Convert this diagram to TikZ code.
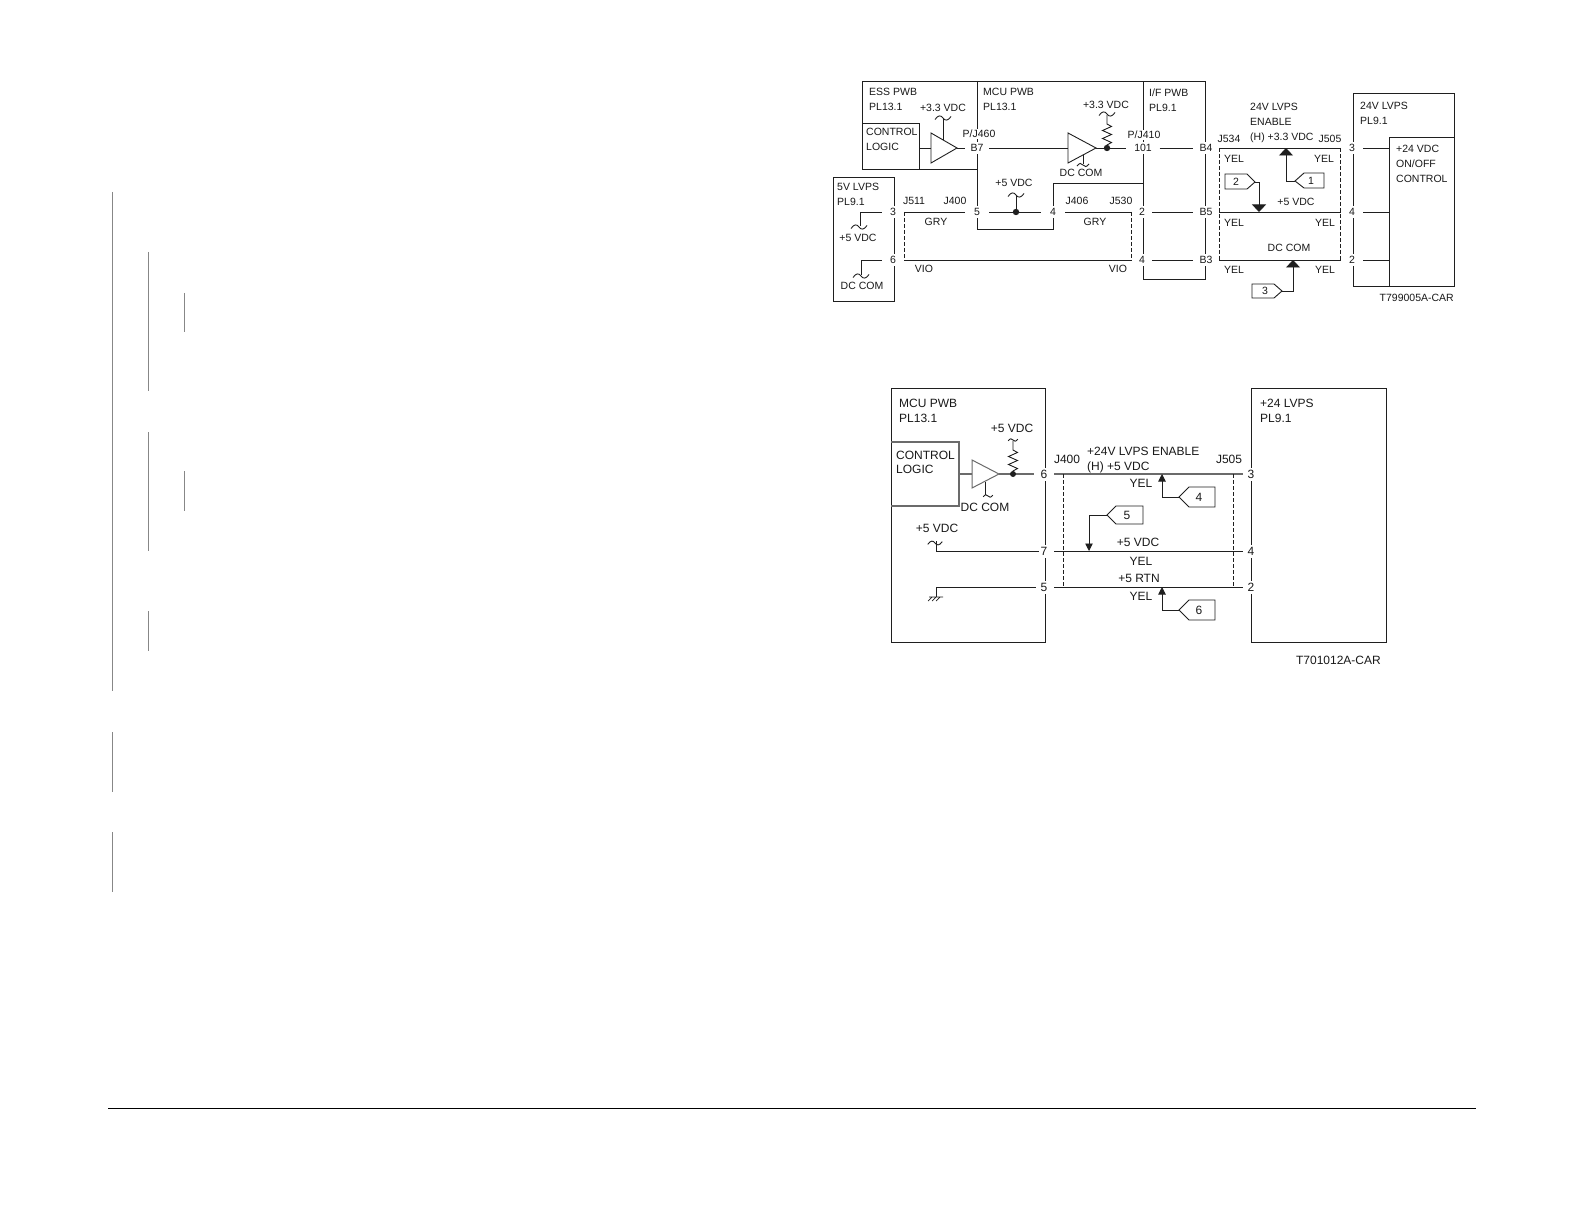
\documentclass[tikz,border=0pt]{standalone}
\usepackage{fontspec}
\setmainfont{Liberation Sans}
\usetikzlibrary{arrows.meta,calc}
\definecolor{ink}{gray}{0.12}
\definecolor{txt}{gray}{0.1}
\definecolor{barc}{gray}{0.53}
\tikzset{
  wire/.style={draw=ink,line width=.9pt},
  gwire/.style={draw=black!58,line width=1.4pt},
  dash box/.style={draw=ink,line width=.8pt,dash pattern=on 3.6pt off 2.4pt},
  bar/.style={draw=barc,line width=1pt},
  box/.style={draw=ink,line width=.9pt,rectangle,inner sep=0pt,outer sep=0pt,anchor=north west},
  ctr/.style={text=txt,inner sep=0pt,font=\fontsize{10.5}{12}\selectfont,text height=7.6pt,text depth=0pt},
  lft/.style={ctr,anchor=west},
  rgt/.style={ctr,anchor=east},
  bctr/.style={text=txt,inner sep=0pt,font=\fontsize{12}{13}\selectfont,text height=8.6pt,text depth=0pt},
  blft/.style={bctr,anchor=west},
  brgt/.style={bctr,anchor=east},
  pinn/.style={ctr,fill=white,minimum width=#1,minimum height=12pt},
  pinn/.default=22pt,
  bpin/.style={bctr,fill=white,minimum width=#1,minimum height=13pt},
  bpin/.default=20pt,
  bigarrow/.style={wire,-{Triangle[width=14pt,length=7.5pt]}},
  smallarrow/.style={draw=ink,line width=.9pt,-{Triangle[width=7.5pt,length=7.5pt]}},
  tag/.style={draw=ink,line width=.9pt,line join=miter},
  tilde/.pic={\draw[draw=ink,line width=.9pt] (-8,1.5) .. controls (-5,-3) and (-2,-3) .. (0,0) .. controls (2,3) and (5,3) .. (8,-1.5);},
  zigzag up/.pic={\draw[draw=ink,line width=.9pt] (0,0) -- (0,-3) -- (4.5,-5.5) -- (-4.5,-9.5) -- (4.5,-13.5) -- (-4.5,-17.5) -- (4.5,-21.5) -- (0,-24) -- (0,-#1);},
}
\begin{document}
\begin{tikzpicture}[x=1pt,y=-1pt]
\useasboundingbox (0,0) rectangle (1582,1222);
\fill[white] (0,0) rectangle (1582,1222);

% page bars
\draw[bar] (112.5,192) -- (112.5,691);
\draw[bar] (148,252) -- (148,391.5);
\draw[bar] (184,293) -- (184,332);
\draw[bar] (148,432) -- (148,551);
\draw[bar] (184,471) -- (184,511);
\draw[bar] (148,611) -- (148,651);
\draw[bar] (112.5,732) -- (112.5,792);
\draw[bar] (112.5,832) -- (112.5,892);
\draw[draw=black,line width=1pt] (108,1108.5) -- (1476,1108.5);

%%%%%%%%%% TOP DIAGRAM
% boxes and walls
\node[box,minimum width=61pt,minimum height=124pt] (lvpsfive) at (833,177) {};
\node[box,minimum width=101pt,minimum height=193pt] (lvpstf) at (1353,93) {};
\node[box,minimum width=65pt,minimum height=149pt] (onoff) at (1389,137) {};
\node[box,minimum width=57pt,minimum height=46pt] (ctla) at (862,123) {};
\draw[wire] (862,123) -- (862,81) -- (1205,81) -- (1205,279) -- (1143,279) -- (1143,81);
\draw[wire] (862,169) -- (977,169);
\draw[wire] (977,81) -- (977,229) -- (1053,229) -- (1053,183) -- (1143,183);

% pins (white ground opens the walls)
\node[pinn] (p3a) at (893,212) {3};
\node[pinn] (p6a) at (893,260) {6};
\node[pinn=24pt] (pB7) at (977,148) {B7};
\node[pinn=24pt] (p5a) at (977,212) {5};
\node[pinn=24pt] (p4a) at (1053,212) {4};
\node[pinn=33pt] (p101) at (1143,148) {101};
\node[pinn=20pt] (p2a) at (1142,212) {2};
\node[pinn=20pt] (p4b) at (1142,260) {4};
\node[pinn=26pt] (pB4) at (1206,148) {B4};
\node[pinn=26pt] (pB5) at (1206,212) {B5};
\node[pinn=26pt] (pB3) at (1206,260) {B3};
\node[pinn] (p3b) at (1352,148) {3};
\node[pinn] (p4c) at (1352,212) {4};
\node[pinn] (p2b) at (1352,260) {2};

% buffers
\coordinate (ain) at (931,148);
\coordinate (aout) at (957,148);
\coordinate (bin) at (1068,148);
\coordinate (bout) at (1096,148);
\coordinate (jres) at (1107,148);
\coordinate (jfive) at (1016,212);
\draw[wire,line join=miter] (931,133) -- (931,163) -- (aout) -- cycle;
\draw[wire,line join=miter] (1068,133) -- (1068,163) -- (bout) -- cycle;
\draw[wire] (919,148) -- (ain);
\draw[wire] (aout) -- (pB7.west);
\draw[wire] (pB7.east) -- (bin);
\draw[wire] (bout) -- (p101.west);
\draw[wire] (p101.east) -- (pB4.west);
\fill[ink] (jres) circle (3.2pt);
\fill[ink] (jfive) circle (3.2pt);
\pic at (jres) {zigzag up=33};
\pic at (1107,114) {tilde};
\draw[wire] (943,140.5) -- (943,118);
\pic at (943,118) {tilde};
\draw[wire] (1083,155) -- (1083,164);
\pic[scale=.75] at (1083,165) {tilde};
\draw[wire] (jfive) -- (1016,195);
\pic at (1016,195) {tilde};

% 5V LVPS inner
\draw[wire] (p3a.west) -- (860,212) -- (860,226);
\pic at (859,227) {tilde};
\draw[wire] (p6a.west) -- (861,260) -- (861,275);
\pic at (861,276) {tilde};

% wires
\draw[wire] (p3a.east) -- (p5a.west);
\draw[wire] (p5a.east) -- (p4a.west);
\draw[wire] (p4a.east) -- (p2a.west);
\draw[wire] (p6a.east) -- (p4b.west);
\draw[wire] (p2a.east) -- (pB5.west);
\draw[wire] (p4b.east) -- (pB3.west);
\draw[wire] (pB4.east) -- (p3b.west);
\draw[wire] (pB5.east) -- (p4c.west);
\draw[wire] (pB3.east) -- (p2b.west);
\draw[wire] (p3b.east) -- (1389,148);
\draw[wire] (p4c.east) -- (1389,212);
\draw[wire] (p2b.east) -- (1389,260);
\draw[dash box] (p3a.east |- p3a) -- (p3a.east |- p6a);
\draw[dash box] (p2a.west |- p2a) -- (p2a.west |- p4b);
\draw[dash box] (pB4.east |- pB4) -- (pB4.east |- pB3);
\draw[dash box] (p3b.west |- p3b) -- (p3b.west |- p2b);

% callouts top
\coordinate (t1) at (1295,181);
\draw[tag] (t1) -- (1304,173) -- (1324,173) -- (1324,188) -- (1304,188) -- cycle;
\node[ctr] (n1) at (1311,181) {1};
\draw[bigarrow] (t1) -| (1286,148);
\coordinate (t2) at (1255,182);
\draw[tag] (t2) -- (1247,174) -- (1225,174) -- (1225,189) -- (1247,189) -- cycle;
\node[ctr] (n2) at (1236,182) {2};
\draw[bigarrow] (t2) -| (1259,212);
\coordinate (t3) at (1282,291);
\draw[tag] (t3) -- (1274,284) -- (1252,284) -- (1252,298) -- (1274,298) -- cycle;
\node[ctr] (n3) at (1265,291) {3};
\draw[bigarrow] (t3) -| (1293,260);

% labels top
\node[lft] (a1) at (869,92) {ESS PWB};
\node[lft] (a2) at (869,107) {PL13.1};
\node[ctr] (a3) at (943,108) {+3.3 VDC};
\node[lft] (a4) at (866,132) {CONTROL};
\node[lft] (a5) at (866,147) {LOGIC};
\node[ctr,fill=white,inner sep=1pt] (a6) at (979,134) {P/J460};
\node[lft] (a7) at (983,92) {MCU PWB};
\node[lft] (a8) at (983,107) {PL13.1};
\node[ctr] (a9) at (1106,105) {+3.3 VDC};
\node[ctr,fill=white,inner sep=1pt] (a10) at (1144,135) {P/J410};
\node[ctr] (a11) at (1081,173) {DC COM};
\node[lft] (a12) at (1149,93) {I/F PWB};
\node[lft] (a13) at (1149,108) {PL9.1};
\node[lft] (a14) at (837,187) {5V LVPS};
\node[lft] (a15) at (837,202) {PL9.1};
\node[ctr] (a16) at (858,238) {+5 VDC};
\node[ctr] (a17) at (862,286) {DC COM};
\node[ctr] (a18) at (914,201) {J511};
\node[ctr] (a19) at (955,201) {J400};
\node[ctr] (a20) at (936,222) {GRY};
\node[ctr] (a21) at (1014,183) {+5 VDC};
\node[ctr] (a22) at (1077,201) {J406};
\node[ctr] (a23) at (1121,201) {J530};
\node[ctr] (a24) at (1095,222) {GRY};
\node[ctr] (a25) at (924,269) {VIO};
\node[ctr] (a26) at (1118,269) {VIO};
\node[lft] (a27) at (1250,107) {24V LVPS};
\node[lft] (a28) at (1250,122) {ENABLE};
\node[lft] (a29) at (1250,137) {(H) +3.3 VDC};
\node[ctr] (a30) at (1229,139) {J534};
\node[ctr] (a31) at (1330,139) {J505};
\node[ctr] (a32) at (1234,159) {YEL};
\node[ctr] (a33) at (1324,159) {YEL};
\node[ctr] (a34) at (1296,202) {+5 VDC};
\node[ctr] (a35) at (1234,223) {YEL};
\node[ctr] (a36) at (1325,223) {YEL};
\node[ctr] (a37) at (1289,248) {DC COM};
\node[ctr] (a38) at (1234,270) {YEL};
\node[ctr] (a39) at (1325,270) {YEL};
\node[lft] (a40) at (1360,106) {24V LVPS};
\node[lft] (a41) at (1360,121) {PL9.1};
\node[lft] (a42) at (1396,149) {+24 VDC};
\node[lft] (a43) at (1396,164) {ON/OFF};
\node[lft] (a44) at (1396,179) {CONTROL};
\node[rgt] (a45) at (1454,298) {T799005A-CAR};

%%%%%%%%%% BOTTOM DIAGRAM
\node[box,minimum width=154pt,minimum height=254pt] (mcub) at (891,388) {};
\node[box,minimum width=135pt,minimum height=254pt] (lvpsb) at (1251,388) {};
\draw[gwire,line width=1.1pt] (891,442) -- (959,442) -- (959,506) -- (891,506);

\node[bpin] (q6) at (1044,474) {6};
\node[bpin] (q7) at (1044,551) {7};
\node[bpin] (q5) at (1044,587) {5};
\node[bpin=16pt] (r3) at (1251,474) {3};
\node[bpin=16pt] (r4) at (1251,551) {4};
\node[bpin=16pt] (r2) at (1251,587) {2};

\coordinate (cin) at (972,474);
\coordinate (cout) at (999,474);
\coordinate (jresb) at (1013,474);
\draw[gwire,line join=miter,line width=1pt] (972,460) -- (972,488) -- (cout) -- cycle;
\draw[gwire] (959,474) -- (cin);
\draw[gwire] (cout) -- (q6.west);
\draw[gwire] (q6.east) -- (r3.west);
\draw[wire] (q7.east) -- (r4.west);
\draw[wire] (q5.east) -- (r2.west);
\fill[ink] (jresb) circle (3pt);
\pic at (jresb) {zigzag up=33};
\pic[scale=.6] at (1013,440) {tilde};
\draw[draw=ink,line width=.9pt] (985,482) -- (985,495);
\pic[scale=.6] at (988,496) {tilde};
\coordinate (fvb) at (936,551);
\coordinate (gnd) at (936,587);
\draw[wire] ($(q7.west)+(5,0)$) -- (fvb) -- (936,541);
\pic[scale=.9] at (935,543) {tilde};
\draw[wire] ($(q5.west)+(2,0)$) -- (gnd) -- (936,597);
\draw[draw=ink,line width=.7pt] (929,597) -- (943,597)
  (932,597) -- (928,601) (936,597) -- (932,601) (940,597) -- (936,601);
\draw[dash box] (1063,474) -- (1063,587);
\draw[dash box] (1233,474) -- (1233,587);

% callouts bottom
\coordinate (t4) at (1179,497);
\draw[tag] (t4) -- (1189,487) -- (1215,487) -- (1215,507) -- (1189,507) -- cycle;
\node[bctr] (n4) at (1199,497) {4};
\draw[smallarrow] (t4) -| (1162,474);
\coordinate (t5) at (1107,515);
\draw[tag] (t5) -- (1116,506) -- (1143,506) -- (1143,524) -- (1116,524) -- cycle;
\node[bctr] (n5) at (1127,515) {5};
\draw[smallarrow] (t5) -| (1089,551);
\coordinate (t6) at (1179,610);
\draw[tag] (t6) -- (1189,600) -- (1215,600) -- (1215,620) -- (1189,620) -- cycle;
\node[bctr] (n6) at (1199,610) {6};
\draw[smallarrow] (t6) -| (1162,587);

% labels bottom
\node[blft] (b1) at (899,403) {MCU PWB};
\node[blft] (b2) at (899,418) {PL13.1};
\node[blft] (b3) at (896,455) {CONTROL};
\node[blft] (b4) at (896,469) {LOGIC};
\node[bctr] (b5) at (1012,428) {+5 VDC};
\node[bctr] (b6) at (985,507) {DC COM};
\node[bctr] (b7) at (937,528) {+5 VDC};
\node[bctr] (b8) at (1067,459) {J400};
\node[blft] (b9) at (1087,451) {+24V LVPS ENABLE};
\node[blft] (b10) at (1087,466) {(H) +5 VDC};
\node[bctr] (b11) at (1141,483) {YEL};
\node[bctr] (b12) at (1138,542) {+5 VDC};
\node[bctr] (b13) at (1141,561) {YEL};
\node[bctr] (b14) at (1139,578) {+5 RTN};
\node[bctr] (b15) at (1141,596) {YEL};
\node[bctr] (b16) at (1229,459) {J505};
\node[blft] (b17) at (1260,403) {+24 LVPS};
\node[blft] (b18) at (1260,418) {PL9.1};
\node[brgt] (b19) at (1381,660) {T701012A-CAR};
\end{tikzpicture}
\end{document}
